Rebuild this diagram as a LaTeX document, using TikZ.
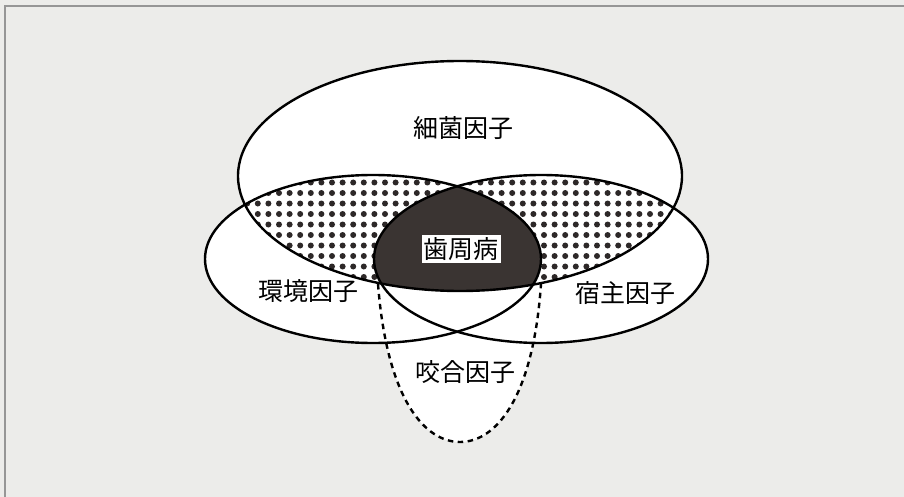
\documentclass[tikz,border=0pt]{standalone}
\usepackage{fontspec}
\newfontfamily\jpfont{Noto Sans CJK JP}
\definecolor{bgcol}{RGB}{236,236,234}
\definecolor{framecol}{RGB}{150,150,150}
\definecolor{darkcol}{RGB}{58,52,50}
\definecolor{dotcol}{RGB}{45,40,40}
\tikzset{
  outline/.style={draw=black, line width=2.4pt},
  dashline/.style={draw=black, line width=2.4pt, dash pattern=on 5.5pt off 4.5pt},
  lbl/.style={font=\jpfont\fontsize{25}{30}\selectfont, inner sep=0pt},
  boxlbl/.style={lbl, fill=white, inner sep=2pt}
}
\def\ellTop{(460,176) ellipse [x radius=222, y radius=115]}
\def\ellLeft{(373,259) ellipse [x radius=168, y radius=84]}
\def\ellRight{(541,259) ellipse [x radius=167, y radius=84]}
\def\occPath{(378,284) .. controls (387,400) and (425,442) .. (460,442) .. controls (495,442) and (533,400) .. (541,284)}
\begin{document}
\begin{tikzpicture}[x=1pt,y=-1pt]
\useasboundingbox (0,0) rectangle (904,497);
\fill[bgcol] (0,0) rectangle (904,497);
\draw[framecol, line width=1.2pt] (5,497) -- (5,6) -- (904,6);
% white fills
\fill[white] \ellTop;
\fill[white] \ellLeft;
\fill[white] \ellRight;
\fill[white] \occPath -- cycle;
% dotted overlaps
\begin{scope}
  \clip \ellTop;
  \clip \ellLeft \ellRight;
  \foreach \i in {0,...,43}{
    \foreach \j in {0,...,12}{
      \fill[dotcol] (236.6+10.6*\i, 172+10.5*\j) circle [radius=3pt];
    }
  }
\end{scope}
% triple overlap
\begin{scope}
  \clip \ellTop;
  \clip \ellLeft;
  \fill[darkcol] \ellRight;
\end{scope}
% outlines
\path[outline] \ellTop;
\path[outline] \ellLeft;
\path[outline] \ellRight;
\path[dashline] \occPath;
% labels
\node[lbl] (bact) at (463,128) {細菌因子};
\node[boxlbl] (perio) at (461,249) {歯周病};
\node[lbl] (env) at (308,291) {環境因子};
\node[lbl] (host) at (625,293) {宿主因子};
\node[lbl] (occ) at (465,372) {咬合因子};
\end{tikzpicture}
\end{document}
